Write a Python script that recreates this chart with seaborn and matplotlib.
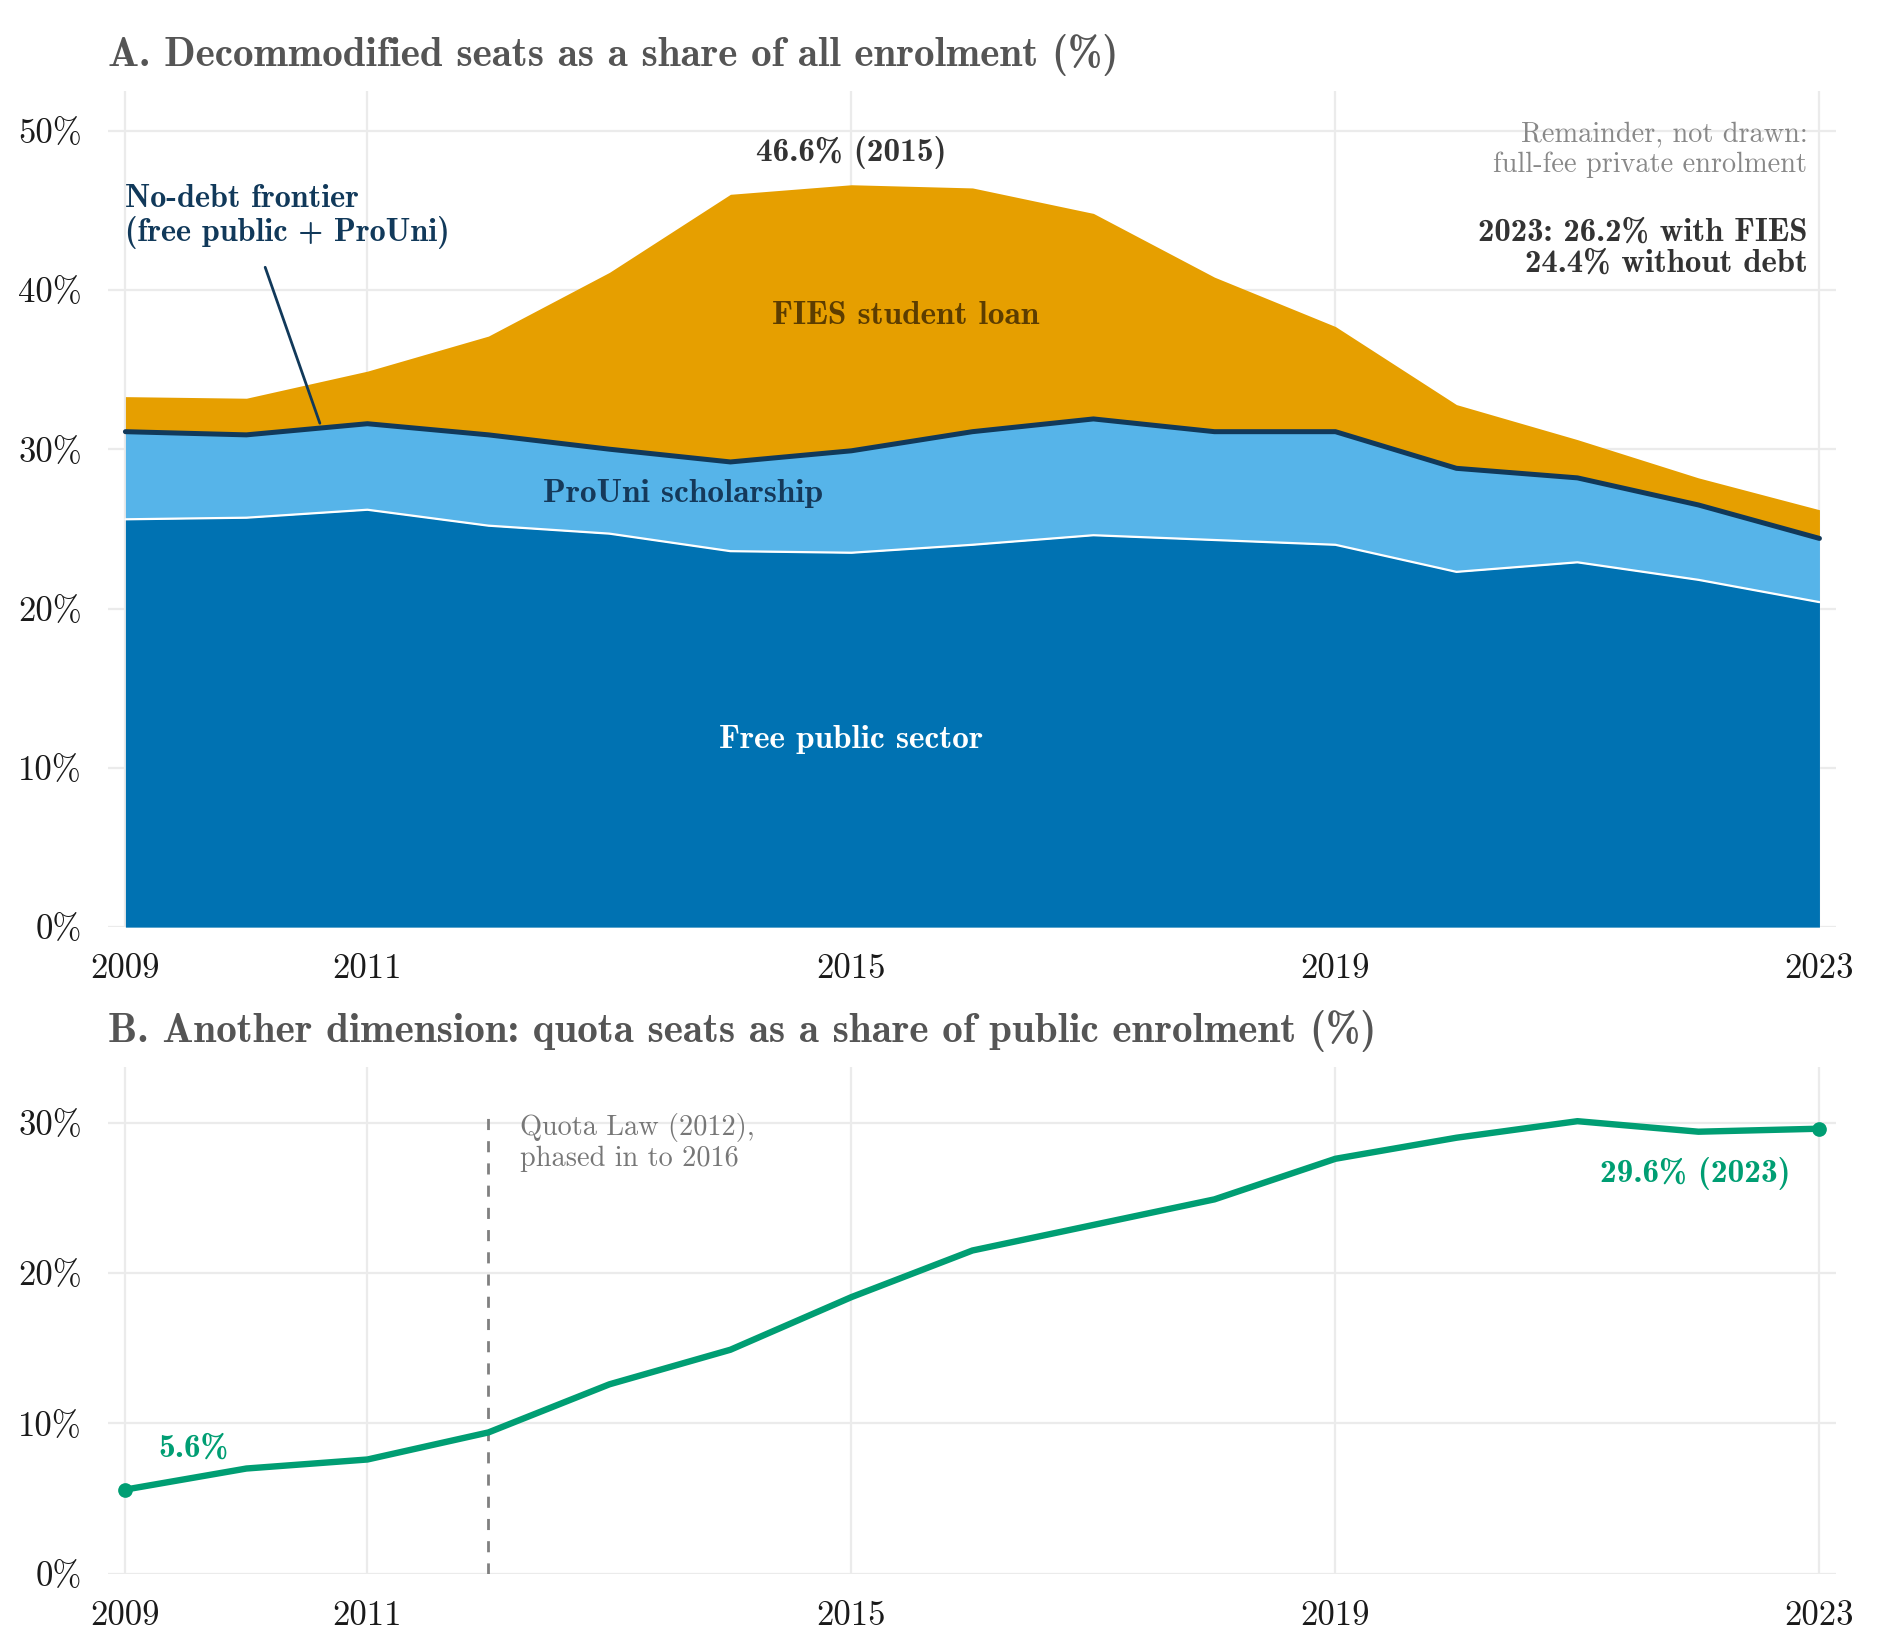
import numpy as np
import pandas as pd
import matplotlib
matplotlib.use("Agg")
import matplotlib.pyplot as plt
import seaborn as sns

# ---- data (shares in %) ----
years = list(range(2009, 2024))
free_public = [25.6, 25.7, 26.2, 25.2, 24.7, 23.6, 23.5, 24.0, 24.6, 24.3, 24.0, 22.3, 22.9, 21.8, 20.4]
prouni = [5.5, 5.2, 5.4, 5.7, 5.3, 5.6, 6.4, 7.1, 7.3, 6.8, 7.1, 6.5, 5.3, 4.7, 4.0]
fies = [2.2, 2.3, 3.3, 6.2, 11.1, 16.8, 16.7, 15.3, 12.9, 9.7, 6.6, 4.0, 2.4, 1.7, 1.8]
quota_share = [5.6, 7.0, 7.6, 9.4, 12.6, 14.9, 18.4, 21.5, 23.2, 24.9, 27.6, 29.0, 30.1, 29.4, 29.6]

year_ticks = [2009, 2011, 2015, 2019, 2023]
year_labels = ["2009", "2011", "2015", "2019", "2023"]

df = pd.DataFrame({"year": years, "free": free_public, "prouni": prouni, "fies": fies,
                   "quota": quota_share})
df["frontier"] = df["free"] + df["prouni"]
df["total"] = df["frontier"] + df["fies"]

C_FREE = "#0072B2"
C_PROUNI = "#56B4E9"
C_FIES = "#E69F00"
C_NAVY = "#11395a"
C_GREEN = "#009E73"

sns.set_theme(style="whitegrid")
plt.rcParams["font.family"] = ["cmr10", "DejaVu Serif"]
plt.rcParams["axes.formatter.use_mathtext"] = True
plt.rcParams["axes.unicode_minus"] = False
BOLD = ["cmb10", "DejaVu Serif"]

fig = plt.figure(figsize=(9.4, 8.25), dpi=200)
axA = fig.add_axes([0.0577, 0.4381, 0.9191, 0.5069])
axB = fig.add_axes([0.0577, 0.0462, 0.9191, 0.3071])


def style_axis(ax):
    ax.set_facecolor("white")
    for s in ax.spines.values():
        s.set_visible(False)
    ax.grid(True, color="#ebebeb", linewidth=0.8)
    ax.set_axisbelow(True)
    ax.tick_params(axis="both", which="major", length=3.5, width=0.9, color="#cccccc",
                   pad=6, labelsize=12.5, labelcolor="#1a1a1a")
    ax.set_xlim(2008.86, 2023.14)
    ax.set_xticks(year_ticks)
    ax.set_xticklabels(year_labels)
    ax.set_xlabel("")
    ax.set_ylabel("")


# ---- Panel A ----
axA.fill_between(df["year"], 0, df["free"], color=C_FREE, linewidth=0, zorder=2)
axA.fill_between(df["year"], df["free"], df["frontier"], color=C_PROUNI, linewidth=0, zorder=2)
axA.fill_between(df["year"], df["frontier"], df["total"], color=C_FIES, linewidth=0, zorder=2)
sns.lineplot(data=df, x="year", y="free", ax=axA, color="white", linewidth=0.8, zorder=3)
sns.lineplot(data=df, x="year", y="frontier", ax=axA, color=C_NAVY, linewidth=1.8, zorder=4)

style_axis(axA)
axA.set_ylim(0, 52.5)
axA.set_yticks([0, 10, 20, 30, 40, 50])
axA.set_yticklabels(["0%", "10%", "20%", "30%", "40%", "50%"])
axA.set_title("A. Decommodified seats as a share of all enrolment (%)", loc="left",
              fontfamily=BOLD, fontsize=14.8, color="#555555", pad=9)

peak = df.loc[df["total"].idxmax()]
axA.text(peak["year"], 48.6, f"{peak['total']:.1f}% ({int(peak['year'])})", ha="center",
         va="center", fontfamily=BOLD, fontsize=12, color="#333333")
axA.text(2009.0, 44.6, "No-debt frontier\n(free public + ProUni)", ha="left", va="center",
         fontfamily=BOLD, fontsize=11.6, color=C_NAVY, linespacing=1.1)
axA.plot([2010.155, 2010.607], [41.42, 31.63], color=C_NAVY, linewidth=1.0, zorder=5)
axA.text(2015.45, 38.4, "FIES student loan", ha="center", va="center",
         fontfamily=BOLD, fontsize=12, color="#5c3d00", zorder=6)
axA.text(2013.61, 27.24, "ProUni scholarship", ha="center", va="center",
         fontfamily=BOLD, fontsize=12, color="#15395a", zorder=6)
axA.text(2015.0, 11.76, "Free public sector", ha="center", va="center",
         fontfamily=BOLD, fontsize=12, color="white", zorder=6)
axA.text(2022.9, 48.8, "Remainder, not drawn:\nfull-fee private enrolment", ha="right",
         va="center", fontsize=10.2, color="#888888", linespacing=1.2)
last = df.iloc[-1]
axA.text(2022.9, 42.66, f"2023: {last['total']:.1f}% with FIES\n{last['frontier']:.1f}% without debt",
         ha="right", va="center", fontfamily=BOLD, fontsize=11.8, color="#333333",
         linespacing=1.1)

# ---- Panel B ----
sns.lineplot(data=df, x="year", y="quota", ax=axB, color=C_GREEN, linewidth=2.3, zorder=4)
ends = df.iloc[[0, -1]]
axB.scatter(ends["year"], ends["quota"], s=28, color=C_GREEN, zorder=5, linewidths=0)
axB.plot([2012, 2012], [0, 30.5], color="#808080", linewidth=1.0, linestyle=(0, (4, 4)),
         zorder=3)

style_axis(axB)
axB.set_ylim(0, 33.7)
axB.set_yticks([0, 10, 20, 30])
axB.set_yticklabels(["0%", "10%", "20%", "30%"])
axB.set_title("B. Another dimension: quota seats as a share of public enrolment (%)", loc="left",
              fontfamily=BOLD, fontsize=14.8, color="#555555", pad=9)

axB.text(2012.26, 28.7, "Quota Law (2012),\nphased in to 2016", ha="left", va="center",
         fontsize=10.2, color="#777777", linespacing=1.2)
axB.text(2009.56, 8.33, f"{df['quota'].iloc[0]:.1f}%", ha="center", va="center",
         fontfamily=BOLD, fontsize=12, color=C_GREEN)
axB.text(2021.97, 26.63, f"{df['quota'].iloc[-1]:.1f}% (2023)", ha="center", va="center",
         fontfamily=BOLD, fontsize=12, color=C_GREEN)

fig.savefig("out.png", dpi=200, facecolor="white")
